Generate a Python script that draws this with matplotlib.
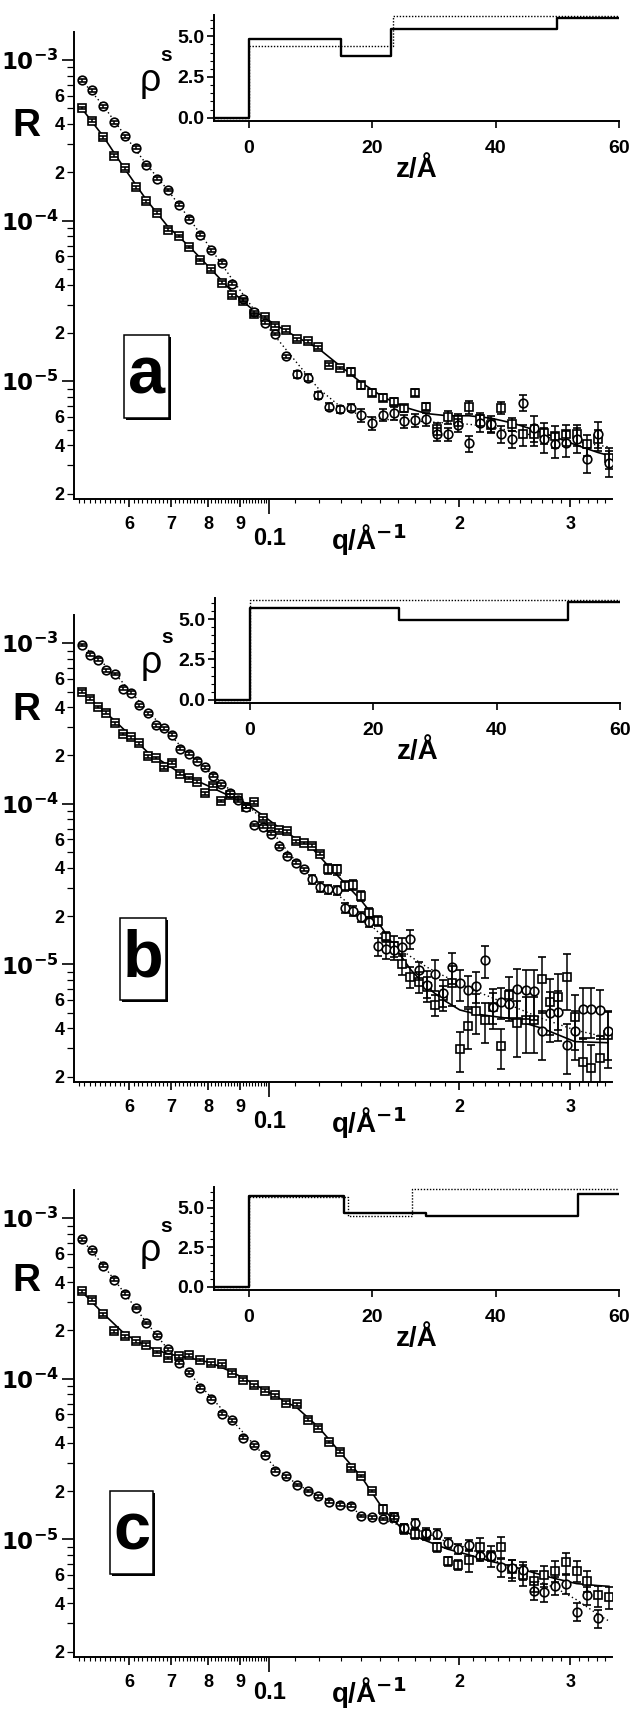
import numpy as np
import matplotlib
matplotlib.use("Agg")
import matplotlib.pyplot as plt
from matplotlib.patches import Rectangle
from matplotlib.ticker import FixedLocator, NullFormatter, FuncFormatter, MultipleLocator
import matplotlib.transforms as mtrans

plt.rcParams["font.family"] = ["Liberation Sans Narrow", "Liberation Sans", "DejaVu Sans"]
plt.rcParams["font.weight"] = "bold"
plt.rcParams["mathtext.fontset"] = "custom"
plt.rcParams["mathtext.rm"] = "Liberation Sans Narrow:bold"
plt.rcParams["mathtext.it"] = "Liberation Sans Narrow:bold"
plt.rcParams["mathtext.bf"] = "Liberation Sans Narrow:bold"

# ---------------------------------------------------------------------------
# data
# ---------------------------------------------------------------------------
# q grid shared by panels a and c (1/A)
q_ac = [0.0505, 0.05252, 0.05462, 0.05681, 0.05908, 0.06144, 0.0639, 0.06645,
        0.06911, 0.07188, 0.07475, 0.07774, 0.08085, 0.08409, 0.08745, 0.09095,
        0.09459, 0.09837, 0.1023, 0.1064, 0.1107, 0.1151, 0.1197, 0.1245,
        0.1294, 0.1346, 0.1400, 0.1456, 0.1514, 0.1575, 0.1638, 0.1703,
        0.1772, 0.1842, 0.1916, 0.1993, 0.2072, 0.2155, 0.2242, 0.2331,
        0.2425, 0.2522, 0.2622, 0.2727, 0.2836, 0.2950, 0.3068, 0.3190,
        0.3318, 0.3451]

# panel a
Ra_circ = [7.48e-4, 6.47e-4, 5.15e-4, 4.10e-4, 3.34e-4, 2.85e-4, 2.22e-4, 1.82e-4,
           1.55e-4, 1.26e-4, 1.03e-4, 8.19e-5, 6.54e-5, 5.47e-5, 4.05e-5, 3.23e-5,
           2.69e-5, 2.31e-5, 1.97e-5, 1.43e-5, 1.11e-5, 1.05e-5, 8.18e-6, 6.96e-6,
           6.70e-6, 6.86e-6, 6.14e-6, 5.47e-6, 6.18e-6, 6.33e-6, 5.66e-6, 5.70e-6,
           5.80e-6, 4.67e-6, 4.67e-6, 5.32e-6, 4.10e-6, 5.52e-6, 5.40e-6, 4.70e-6,
           4.35e-6, 7.37e-6, 5.14e-6, 4.35e-6, 4.05e-6, 4.14e-6, 4.35e-6, 3.26e-6,
           4.72e-6, 3.11e-6]
Ra_sq = [5.02e-4, 4.19e-4, 3.31e-4, 2.53e-4, 2.12e-4, 1.61e-4, 1.32e-4, 1.12e-4,
         8.8e-5, 8.03e-5, 6.86e-5, 5.69e-5, 4.98e-5, 4.10e-5, 3.42e-5, 3.18e-5,
         2.61e-5, 2.51e-5, 2.22e-5, 2.08e-5, 1.83e-5, 1.77e-5, 1.63e-5, 1.27e-5,
         1.21e-5, 1.15e-5, 9.45e-6, 8.51e-6, 7.92e-6, 7.48e-6, 6.77e-6, 8.51e-6,
         6.95e-6, 5.07e-6, 5.95e-6, 5.77e-6, 6.90e-6, 5.80e-6, 5.32e-6, 6.86e-6,
         5.40e-6, 4.67e-6, 4.67e-6, 4.78e-6, 4.55e-6, 4.67e-6, 4.67e-6, 4.05e-6,
         4.35e-6, 3.34e-6]
ea_circ = [0.02] * 20 + [0.05] * 6 + [0.09] * 10 + [0.12] * 6 + [0.18] * 8
ea_sq = [0.02] * 25 + [0.05] * 8 + [0.09] * 8 + [0.15] * 9

qfit_ac = [0.0505, 0.05462, 0.05908, 0.0639, 0.06911, 0.07475, 0.08085, 0.08745,
           0.09459, 0.1023, 0.1107, 0.1197, 0.1294, 0.1400, 0.1514, 0.1638,
           0.1772, 0.1916, 0.2072, 0.2242, 0.2425, 0.2622, 0.2836, 0.3068,
           0.3318, 0.3451]
fa_solid = [5.0e-4, 3.35e-4, 2.1e-4, 1.35e-4, 9.2e-5, 6.9e-5, 5.0e-5, 3.6e-5,
            2.75e-5, 2.25e-5, 1.88e-5, 1.6e-5, 1.25e-5, 9.8e-6, 8.0e-6, 6.9e-6,
            6.3e-6, 6.1e-6, 6.1e-6, 5.9e-6, 5.5e-6, 5.0e-6, 4.5e-6, 4.0e-6,
            3.6e-6, 3.45e-6]
fa_dot = [7.5e-4, 5.2e-4, 3.4e-4, 2.25e-4, 1.55e-4, 1.03e-4, 6.7e-5, 4.3e-5,
          2.8e-5, 1.9e-5, 1.3e-5, 9.0e-6, 7.0e-6, 6.1e-6, 5.8e-6, 5.7e-6,
          5.6e-6, 5.5e-6, 5.4e-6, 5.2e-6, 4.9e-6, 4.6e-6, 4.4e-6, 4.2e-6,
          4.0e-6, 3.9e-6]

# panel b
q_b = [0.0505, 0.05204, 0.05362, 0.05525, 0.05693, 0.05867, 0.06045, 0.06229,
       0.06419, 0.06614, 0.06815, 0.07022, 0.07236, 0.07456, 0.07683, 0.07917,
       0.08157, 0.08405, 0.08661, 0.08924, 0.09196, 0.09476, 0.09764, 0.1006,
       0.1037, 0.1068, 0.1101, 0.1134, 0.1169, 0.1204, 0.1241, 0.1279,
       0.1318, 0.1358, 0.1399, 0.1441, 0.1485, 0.1530, 0.1577, 0.1625,
       0.1674, 0.1725, 0.1778, 0.1832, 0.1888, 0.1945, 0.2004, 0.2065,
       0.2128, 0.2193, 0.2259, 0.2328, 0.2399, 0.2472, 0.2547, 0.2624,
       0.2704, 0.2787, 0.2871, 0.2959, 0.3049, 0.3141, 0.3237, 0.3335, 0.3437]
Rb_circ = [9.77e-4, 8.48e-4, 7.9e-4, 6.79e-4, 6.44e-4, 5.21e-4, 4.92e-4, 4.11e-4,
           3.67e-4, 3.09e-4, 2.95e-4, 2.69e-4, 2.2e-4, 2.05e-4, 1.86e-4, 1.69e-4,
           1.5e-4, 1.32e-4, 1.17e-4, 1.05e-4, 9.6e-5, 7.39e-5, 7.22e-5, 6.5e-5,
           5.43e-5, 4.75e-5, 4.3e-5, 3.9e-5, 3.38e-5, 3.03e-5, 2.93e-5, 2.89e-5,
           2.26e-5, 2.16e-5, 1.98e-5, 1.83e-5, 1.30e-5, 1.25e-5, 1.22e-5, 1.29e-5,
           1.44e-5, 9.2e-6, 7.43e-6, 8.77e-6, 6.59e-6, 9.64e-6, 7.6e-6, 6.92e-6,
           7.33e-6, 1.06e-5, 5.46e-6, 5.86e-6, 5.7e-6, 7.0e-6, 6.92e-6, 6.85e-6,
           3.83e-6, 5.01e-6, 5.08e-6, 3.16e-6, 3.83e-6, 5.28e-6, 5.28e-6, 5.2e-6,
           3.83e-6]
Rb_sq = [4.99e-4, 4.52e-4, 4.01e-4, 3.70e-4, 3.18e-4, 2.72e-4, 2.59e-4, 2.38e-4,
         1.98e-4, 1.93e-4, 1.69e-4, 1.80e-4, 1.54e-4, 1.45e-4, 1.37e-4, 1.16e-4,
         1.30e-4, 1.04e-4, 1.13e-4, 1.08e-4, 9.6e-5, 1.02e-4, 8.13e-5, 7.22e-5,
         6.85e-5, 6.73e-5, 5.84e-5, 5.70e-5, 5.47e-5, 4.88e-5, 3.95e-5, 3.90e-5,
         3.08e-5, 3.12e-5, 2.67e-5, 2.10e-5, 1.87e-5, 1.48e-5, 1.31e-5, 1.01e-5,
         8.35e-6, 7.78e-6, 7.24e-6, 5.58e-6, 6.35e-6, 7.65e-6, 2.95e-6, 4.12e-6,
         5.1e-6, 4.5e-6, 5.46e-6, 3.08e-6, 6.48e-6, 4.3e-6, 4.52e-6, 4.52e-6,
         8.05e-6, 5.86e-6, 6.3e-6, 8.35e-6, 4.69e-6, 2.47e-6, 2.27e-6, 2.6e-6,
         3.65e-6]
eb_circ = [0.02] * 28 + [0.07] * 8 + [0.13] * 6 + [0.22] * 11 + [0.34] * 12
eb_sq = [0.02] * 30 + [0.07] * 8 + [0.15] * 7 + [0.28] * 8 + [0.38] * 12

qfit_b = [0.0505, 0.05693, 0.06419, 0.07236, 0.08157, 0.09196, 0.09764, 0.1037,
          0.1101, 0.1169, 0.1241, 0.1318, 0.1399, 0.1485, 0.1577, 0.1674,
          0.1778, 0.1888, 0.2004, 0.2128, 0.2399, 0.2704, 0.3049, 0.3437]
fb_solid = [5.0e-4, 3.3e-4, 2.1e-4, 1.55e-4, 1.25e-4, 1.0e-4, 8.5e-5, 7.1e-5,
            6.1e-5, 5.3e-5, 4.1e-5, 3.2e-5, 2.5e-5, 1.85e-5, 1.3e-5, 9.3e-6,
            7.2e-6, 6.0e-6, 5.2e-6, 4.9e-6, 4.6e-6, 4.0e-6, 3.3e-6, 3.25e-6]
fb_dot = [9.8e-4, 6.5e-4, 3.8e-4, 2.3e-4, 1.5e-4, 1.0e-4, 8.0e-5, 5.9e-5,
          4.4e-5, 3.5e-5, 3.0e-5, 2.5e-5, 2.0e-5, 1.6e-5, 1.33e-5, 1.12e-5,
          9.6e-6, 8.5e-6, 7.6e-6, 6.8e-6, 5.6e-6, 4.6e-6, 3.9e-6, 3.5e-6]

# panel c
Rc_circ = [7.41e-4, 6.3e-4, 5.06e-4, 4.14e-4, 3.39e-4, 2.76e-4, 2.23e-4, 1.87e-4,
           1.53e-4, 1.26e-4, 1.10e-4, 8.79e-5, 7.51e-5, 6.07e-5, 5.51e-5, 4.3e-5,
           3.85e-5, 3.36e-5, 2.67e-5, 2.47e-5, 2.18e-5, 2.0e-5, 1.85e-5, 1.72e-5,
           1.64e-5, 1.62e-5, 1.40e-5, 1.37e-5, 1.34e-5, 1.37e-5, 1.17e-5, 1.26e-5,
           1.10e-5, 1.08e-5, 9.48e-6, 8.7e-6, 9.23e-6, 7.84e-6, 7.9e-6, 6.7e-6,
           6.6e-6, 6.4e-6, 4.8e-6, 4.69e-6, 5.15e-6, 5.28e-6, 3.55e-6, 4.47e-6,
           3.23e-6, np.nan]
Rc_sq = [3.50e-4, 3.11e-4, 2.53e-4, 1.98e-4, 1.84e-4, 1.71e-4, 1.63e-4, 1.47e-4,
         1.35e-4, 1.38e-4, 1.40e-4, 1.31e-4, 1.25e-4, 1.23e-4, 1.09e-4, 9.9e-5,
         9.13e-5, 8.45e-5, 7.9e-5, 7.1e-5, 6.92e-5, 5.55e-5, 4.97e-5, 4.04e-5,
         3.52e-5, 2.77e-5, 2.48e-5, 2.0e-5, 1.54e-5, 1.37e-5, 1.16e-5, 1.08e-5,
         1.07e-5, 8.92e-6, 7.3e-6, 6.95e-6, 7.4e-6, 8.92e-6, 7.9e-6, 9.0e-6,
         6.5e-6, 6.0e-6, 5.53e-6, 5.97e-6, 6.38e-6, 7.19e-6, 6.38e-6, 5.53e-6,
         4.47e-6, 4.36e-6]
ec_circ = [0.02] * 30 + [0.07] * 9 + [0.13] * 11
ec_sq = [0.02] * 28 + [0.07] * 8 + [0.15] * 14

fc_solid = [3.5e-4, 2.55e-4, 1.9e-4, 1.6e-4, 1.43e-4, 1.35e-4, 1.26e-4, 1.1e-4,
            9.3e-5, 7.8e-5, 6.6e-5, 5.0e-5, 3.5e-5, 2.45e-5, 1.55e-5, 1.12e-5,
            9.8e-6, 8.7e-6, 8.0e-6, 7.3e-6, 6.8e-6, 6.2e-6, 5.7e-6, 5.3e-6,
            5.15e-6, 5.1e-6]
fc_dot = [7.4e-4, 5.1e-4, 3.4e-4, 2.25e-4, 1.53e-4, 1.08e-4, 7.7e-5, 5.5e-5,
          3.9e-5, 2.8e-5, 2.2e-5, 1.87e-5, 1.65e-5, 1.45e-5, 1.32e-5, 1.2e-5,
          1.1e-5, 9.6e-6, 8.8e-6, 7.6e-6, 6.6e-6, 5.6e-6, 5.0e-6, 4.2e-6,
          3.4e-6, 3.1e-6]

# scattering length density profiles (insets)
za_solid = [-5.6, 0, 15, 23, 50, 60]
rhoa_solid = [-0.03, 4.8, 3.8, 5.45, 6.12, 6.12]
za_dot = [-5.6, 0, 23.4, 60]
rhoa_dot = [-0.03, 4.4, 6.22, 6.22]
zb_solid = [-5.6, 0, 24.2, 51.6, 60]
rhob_solid = [-0.03, 5.7, 4.93, 6.07, 6.07]
zb_dot = [-5.6, 0, 60]
rhob_dot = [-0.03, 6.17, 6.17]
zc_solid = [-5.6, 0, 15.5, 28.8, 53.3, 60]
rhoc_solid = [-0.03, 5.75, 4.66, 4.5, 5.86, 5.86]
zc_dot = [-5.6, 0, 16.1, 26.5, 60]
rhoc_dot = [-0.03, 5.7, 4.44, 6.15, 6.15]

# ---------------------------------------------------------------------------
W, H = 633, 1711
fig = plt.figure(figsize=(W / 100, H / 100), dpi=100)
WIDE = ["Liberation Sans", "DejaVu Sans"]


def rect(left, top, right, bottom):
    return [left / W, 1 - bottom / H, (right - left) / W, (bottom - top) / H]


def ylab(v, pos):
    k = int(round(v / 10 ** np.floor(np.log10(v) + 1e-9)))
    return str(k) if k in (2, 4, 6) else ""


def draw_panel(main_box, inset_box, q, Rc, Rs, ec, es, qf, f_s, f_d,
               z_s, r_s, z_d, r_d, letter, letter_box, R_y, qlab_y=-0.087):
    ax = fig.add_axes(rect(*main_box))
    ax.set_xscale("log")
    ax.set_yscale("log")
    ax.plot(qf, f_s, color="k", lw=1.2, zorder=2)
    ax.plot(qf, f_d, color="k", lw=1.0, ls=(0, (1, 2)), zorder=2)
    q = np.array(q)
    Rs = np.array(Rs)
    Rc = np.array(Rc)
    ax.errorbar(q, Rs, yerr=Rs * np.array(es), fmt="s", ms=5.6, mfc="white",
                mec="k", mew=1.2, ecolor="k", elinewidth=1.1, capsize=2.8,
                capthick=1.1, barsabove=True, zorder=3)
    ax.errorbar(q, Rc, yerr=Rc * np.array(ec), fmt="o", ms=6.2, mfc="white",
                mec="k", mew=1.2, ecolor="k", elinewidth=1.1, capsize=2.8,
                capthick=1.1, barsabove=True, zorder=3)
    ax.set_xlim(0.0491, 0.349)
    ax.set_ylim(1.85e-6, 1.5e-3)
    for s in ("top", "right"):
        ax.spines[s].set_visible(False)
    for s in ("left", "bottom"):
        ax.spines[s].set_linewidth(1.4)

    # x ticks
    ax.xaxis.set_major_locator(FixedLocator([0.06, 0.07, 0.08, 0.09, 0.1, 0.2, 0.3]))
    ax.set_xticklabels(["6", "7", "8", "9", "", "2", "3"])
    minor = np.r_[np.arange(0.050, 0.0995, 0.001), np.arange(0.11, 0.345, 0.01)]
    ax.xaxis.set_minor_locator(FixedLocator(minor))
    ax.xaxis.set_minor_formatter(NullFormatter())
    ax.tick_params(axis="x", which="major", direction="out", length=6, width=1.2,
                   pad=6, labelsize=13)
    ax.tick_params(axis="x", which="minor", direction="out", length=3.2, width=0.8)
    ax.xaxis.get_major_ticks()[4].tick1line.set_markersize(11)
    tr = mtrans.blended_transform_factory(ax.transData, ax.transAxes)
    ax.text(0.1, qlab_y + 0.003, "0.1", transform=tr, ha="center", va="center",
            fontsize=17)
    ax.text(0.548, qlab_y, r"q/Å$^{-1}$", transform=ax.transAxes, ha="center",
            va="center", fontsize=20, family=WIDE, weight="bold")

    # y ticks
    ax.yaxis.set_major_locator(FixedLocator([1e-5, 1e-4, 1e-3]))
    ax.set_yticklabels([r"$10^{-5}$", r"$10^{-4}$", r"$10^{-3}$"])
    ymin = [k * 10.0 ** e for e in (-6, -5, -4, -3) for k in range(2, 10)]
    ax.yaxis.set_minor_locator(FixedLocator(ymin))
    ax.yaxis.set_minor_formatter(FuncFormatter(ylab))
    ax.tick_params(axis="y", which="major", direction="out", length=9, width=1.2,
                   pad=2, labelsize=16.5)
    ax.tick_params(axis="y", which="minor", direction="out", length=5, width=0.9,
                   pad=2, labelsize=13)

    fig.text(26 / W, 1 - R_y / H, "R", fontsize=28, ha="center", va="center",
             family=WIDE, weight="bold")

    # letter box
    l, t, r, b = letter_box
    fig.add_artist(Rectangle(((l + 1.8) / W, 1 - (b + 1.8) / H), (r - l) / W, (b - t) / H,
                             transform=fig.transFigure, fc="k", ec="k", lw=0, zorder=4))
    fig.add_artist(Rectangle((l / W, 1 - b / H), (r - l) / W, (b - t) / H,
                             transform=fig.transFigure, fc="white", ec="k", lw=1.1, zorder=5))
    fig.text((l + r) / 2 / W, 1 - (t + b) / 2 / H, letter, fontsize=48, ha="center",
             va="center", zorder=6)

    # inset
    ins = fig.add_axes(rect(*inset_box))
    ins.patch.set_alpha(0)
    ins.plot(z_s, r_s, drawstyle="steps-post", color="k", lw=1.7)
    ins.plot(z_d, r_d, drawstyle="steps-post", color="k", lw=1.0, ls=(0, (1, 1.2)))
    ins.set_xlim(-5.6, 60)
    ins.set_ylim(-0.2, 6.3)
    for s in ("top", "right"):
        ins.spines[s].set_visible(False)
    for s in ("left", "bottom"):
        ins.spines[s].set_linewidth(1.4)
    ins.set_xticks([0, 20, 40, 60])
    ins.set_yticks([0, 2.5, 5.0])
    ins.set_yticklabels(["0.0", "2.5", "5.0"])
    ins.yaxis.set_minor_locator(MultipleLocator(0.5))
    ins.tick_params(axis="x", direction="out", length=5, width=1.2, pad=9, labelsize=14)
    ins.tick_params(axis="y", which="major", direction="out", length=5, width=1.2,
                    pad=2, labelsize=14)
    ins.tick_params(axis="y", which="minor", direction="out", length=3, width=0.8)
    ins.set_xlabel("z/Å", fontsize=20, labelpad=0, family=WIDE, weight="bold")
    ins.text(-0.158, 0.38, "ρ", transform=ins.transAxes, fontsize=27, ha="center",
             va="center", weight="normal", family=WIDE)
    ins.text(-0.117, 0.62, "s", transform=ins.transAxes, fontsize=15, ha="center",
             va="center", family=WIDE, weight="bold")


draw_panel((74, 31.7, 612, 499), (214, 15, 619, 121), q_ac, Ra_circ, Ra_sq,
           ea_circ, ea_sq, qfit_ac, fa_solid, fa_dot,
           za_solid, rhoa_solid, za_dot, rhoa_dot, "a", (124, 335, 169, 418), 126)
draw_panel((74, 615, 612, 1082), (215, 598, 620, 703), q_b, Rb_circ, Rb_sq,
           eb_circ, eb_sq, qfit_b, fb_solid, fb_dot,
           zb_solid, rhob_solid, zb_dot, rhob_dot, "b", (120, 918, 166, 1000), 710)
draw_panel((74, 1190, 612, 1657), (214, 1187, 619, 1290), q_ac, Rc_circ, Rc_sq,
           ec_circ, ec_sq, qfit_ac, fc_solid, fc_dot,
           zc_solid, rhoc_solid, zc_dot, rhoc_dot, "c", (110, 1491, 153, 1574), 1281,
           qlab_y=-0.078)

fig.savefig("out.png", dpi=100)
